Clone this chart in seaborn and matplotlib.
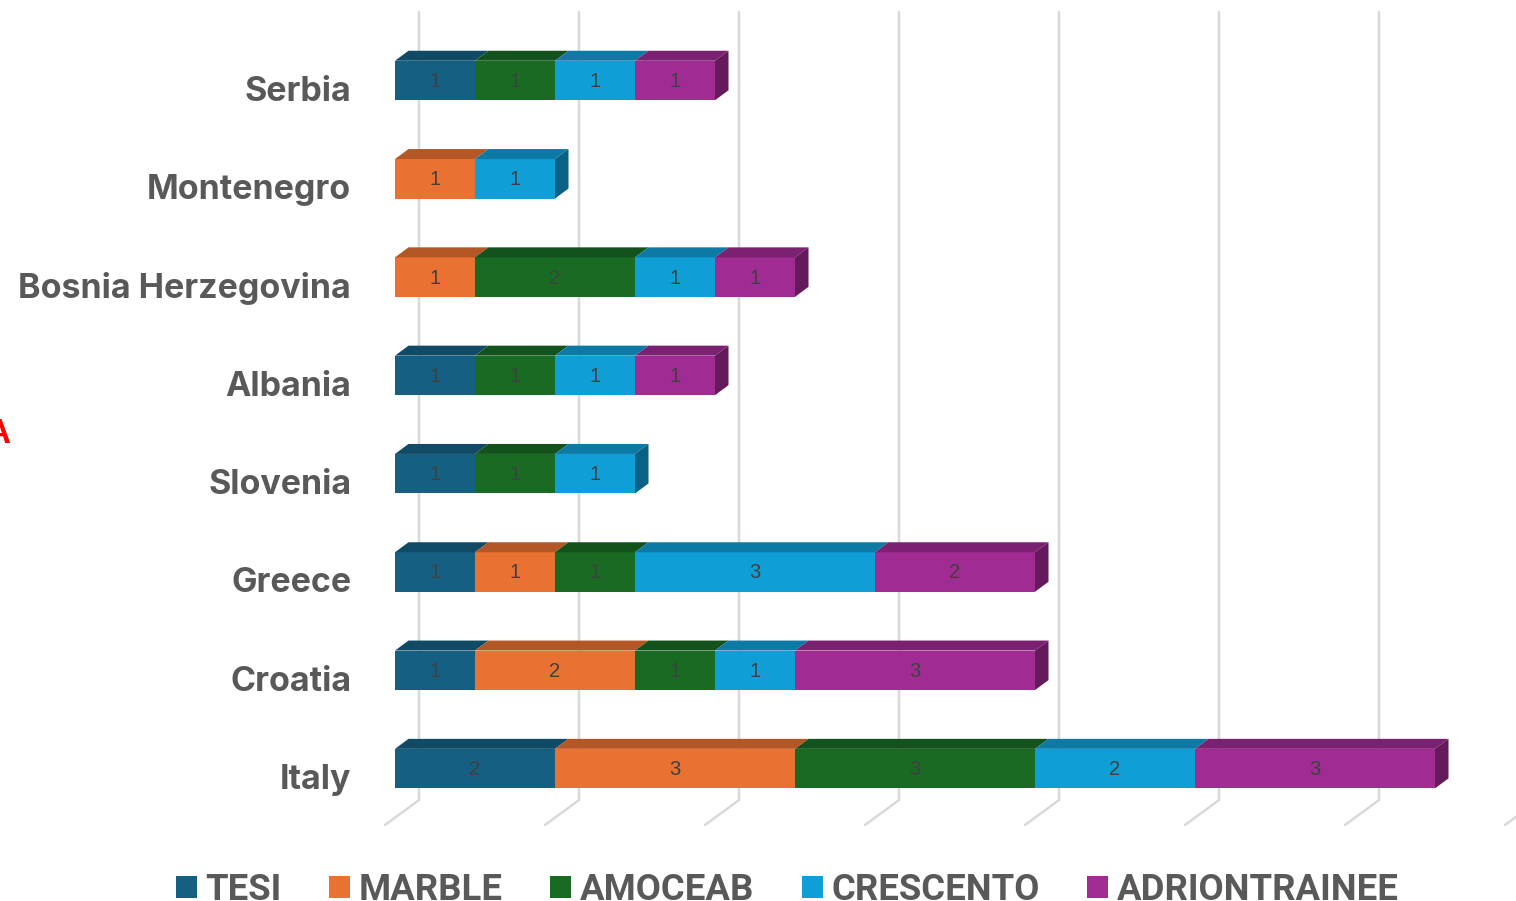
import numpy as np
import pandas as pd
import matplotlib
matplotlib.use("Agg")
import matplotlib.pyplot as plt
from matplotlib.colors import to_rgb
from matplotlib.patches import Polygon
from matplotlib.transforms import ScaledTranslation
import seaborn as sns

countries = ["Serbia", "Montenegro", "Bosnia Herzegovina", "Albania",
             "Slovenia", "Greece", "Croatia", "Italy"]
tesi = [1, 0, 0, 1, 1, 1, 1, 2]
marble = [0, 1, 1, 0, 0, 1, 2, 3]
amoceab = [1, 0, 2, 1, 1, 1, 1, 3]
crescento = [1, 1, 1, 1, 1, 3, 1, 2]
adriontrainee = [1, 0, 1, 1, 0, 2, 3, 3]
series_names = ["TESI", "MARBLE", "AMOCEAB", "CRESCENTO", "ADRIONTRAINEE"]
series_values = [tesi, marble, amoceab, crescento, adriontrainee]
series_colors = ["#156082", "#E97132", "#196B24", "#0F9ED5", "#A02B93"]
grid_ticks = [0, 2, 4, 6, 8, 10, 12, 14]

W, H = 1516, 901
PX_X, PX_Y = 80.0, 98.3
X0, Y0 = 395.0, 80.5
sns.set_theme(style="white")
plt.rcParams["font.family"] = ["Inter", "DejaVu Sans"]

fig = plt.figure(figsize=(W / 100, H / 100), dpi=100, facecolor="white")
ax = fig.add_axes([X0 / W, 0, 1 - X0 / W, 1])

df = pd.DataFrame(dict(zip(series_names, series_values)), index=countries)
left = np.zeros(len(countries))
bar_h = 39.5 / PX_Y
dx, dy = 13.5 / PX_X, 10 / PX_Y


def shade(color, f):
    return tuple(c * f for c in to_rgb(color))


for name, color in zip(series_names, series_colors):
    vals = df[name].to_numpy(dtype=float)
    sns.barplot(x=vals, y=countries, order=countries, left=left, color=color,
                saturation=1, width=bar_h, orient="h", ax=ax, label=name,
                linewidth=0, zorder=3)
    for i, v in enumerate(vals):
        if v <= 0:
            continue
        a, b = left[i], left[i] + v
        top = i - bar_h / 2
        ax.add_patch(Polygon([(a, top), (b, top), (b + dx, top - dy), (a + dx, top - dy)],
                             closed=True, fc=shade(color, 0.77), ec="none", zorder=3))
        ax.text((a + b) / 2, i + 1 / PX_Y, f"{int(v)}", ha="center", va="center",
                fontsize=14.5, color="#404040", family="Liberation Sans", zorder=6)
    left = left + vals

for i in range(len(countries)):
    last = max(j for j, s in enumerate(series_values) if s[i] > 0)
    e = left[i]
    top, bot = i - bar_h / 2, i + bar_h / 2
    ax.add_patch(Polygon([(e, top), (e + dx, top - dy), (e + dx, bot - dy), (e, bot)],
                         closed=True, fc=shade(series_colors[last], 0.62), ec="none", zorder=4))

wall = 24 / PX_X
front = -10 / PX_X
y_top = (12 - Y0) / PX_Y
y_wall = (800 - Y0) / PX_Y
y_front = (825 - Y0) / PX_Y
for t in grid_ticks:
    ax.plot([t + wall, t + wall, t + front], [y_top, y_wall, y_front],
            color="#D9D9D9", lw=1.8, solid_joinstyle="miter", zorder=1, clip_on=False)

ax.set_xlim(0, (W - X0) / PX_X)
ax.set_ylim((H - Y0) / PX_Y, -Y0 / PX_Y)
ax.set_xticks([])
ax.set_xlabel("")
ax.set_ylabel("")
sns.despine(ax=ax, left=True, bottom=True)
ax.patch.set_alpha(0)
ax.tick_params(axis="y", length=0, pad=31.5)
offset = ScaledTranslation(0, -8 / 100, fig.dpi_scale_trans)
for lab in ax.get_yticklabels():
    lab.set_fontsize(24.5)
    lab.set_fontweight("bold")
    lab.set_family("Inter")
    lab.set_color("#595959")
    lab.set_transform(lab.get_transform() + offset)

handles, labels = ax.get_legend_handles_labels()
leg = ax.legend(handles[:5], labels[:5], ncols=5, frameon=False,
                loc="center left", bbox_to_anchor=(176 / W, 1 - 890 / H),
                bbox_transform=fig.transFigure,
                prop={"family": "Roboto", "weight": "bold", "size": 26.3},
                labelcolor="#595959", handlelength=0.57, handleheight=0.57,
                handletextpad=0.24, columnspacing=1.3, borderpad=0, borderaxespad=0)

fig.text(10 / W, 1 - 443 / H, "A", color="#FF0000", ha="right", va="baseline",
         fontsize=25, fontweight="bold", family="Liberation Sans")

fig.savefig("out.png", dpi=100, facecolor="white")
